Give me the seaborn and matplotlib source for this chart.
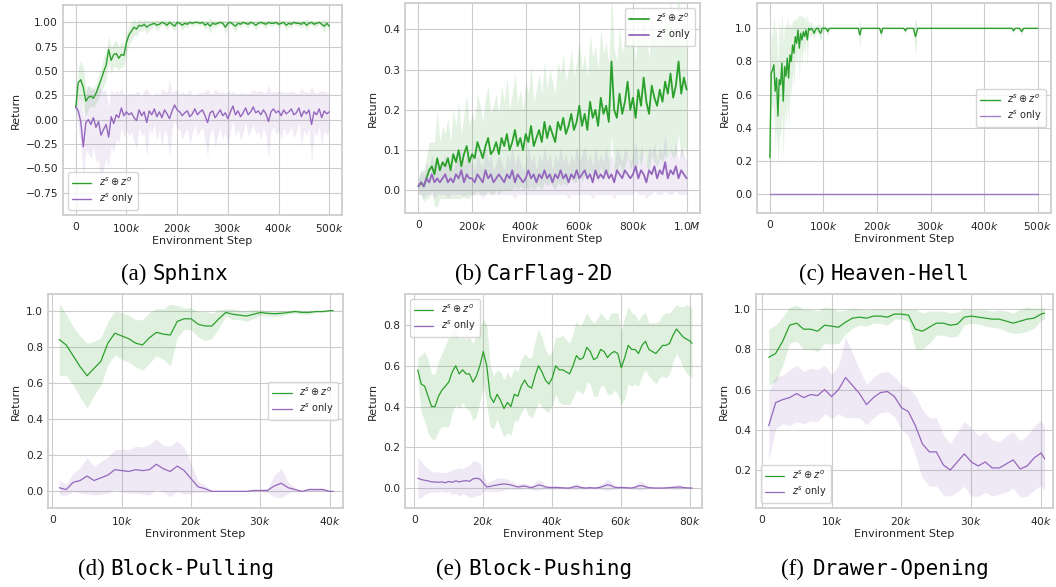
import numpy as np
import matplotlib
matplotlib.use("Agg")
import matplotlib.pyplot as plt
import seaborn as sns

# ---- data ----
# (a) Sphinx, logged every 5k steps
sphinx_steps = np.arange(0, 500001, 5000)
sphinx_full = [0.12, 0.38, 0.41, 0.33, 0.19, 0.23, 0.24, 0.22, 0.27, 0.34,
               0.41, 0.49, 0.56, 0.72, 0.61, 0.67, 0.68, 0.63, 0.67, 0.66,
               0.79, 0.87, 0.91, 0.95, 0.93, 0.97, 0.96, 0.98, 0.95, 0.97,
               0.98, 0.99, 0.97, 0.98, 1.00, 0.99, 0.97, 1.00, 0.98, 0.96,
               1.00, 0.99, 0.97, 0.99, 0.98, 1.00, 0.99, 1.00, 1.00, 0.99,
               1.00, 0.97, 0.99, 0.96, 0.99, 0.98, 0.99, 1.00, 0.99, 0.95,
               0.99, 1.00, 0.98, 0.96, 0.99, 0.98, 1.00, 0.99, 0.98, 1.00,
               0.99, 0.97, 0.99, 1.00, 0.99, 0.98, 1.00, 0.99, 0.99, 1.00,
               0.98, 0.99, 1.00, 0.97, 0.99, 0.98, 1.00, 0.99, 0.99, 0.98,
               1.00, 0.97, 0.99, 1.00, 0.98, 0.99, 1.00, 0.98, 0.96, 0.99,
               0.96]
sphinx_full_sd = [0.08, 0.15, 0.20, 0.22, 0.15, 0.12, 0.10, 0.10, 0.10, 0.12,
                  0.12, 0.15, 0.15, 0.14, 0.13, 0.12, 0.14, 0.12, 0.13, 0.12,
                  0.10, 0.10, 0.10, 0.08, 0.07, 0.06, 0.05, 0.05, 0.07, 0.05,
                  0.04, 0.03, 0.06, 0.04, 0.03, 0.03, 0.05, 0.03, 0.04, 0.06,
                  0.02, 0.03, 0.05, 0.03, 0.04, 0.02, 0.03, 0.02, 0.02, 0.03,
                  0.02, 0.05, 0.03, 0.08, 0.03, 0.04, 0.03, 0.02, 0.03, 0.07,
                  0.03, 0.02, 0.04, 0.06, 0.03, 0.04, 0.02, 0.03, 0.04, 0.02,
                  0.03, 0.05, 0.03, 0.02, 0.03, 0.04, 0.02, 0.03, 0.03, 0.02,
                  0.04, 0.03, 0.02, 0.05, 0.03, 0.04, 0.02, 0.03, 0.03, 0.04,
                  0.02, 0.06, 0.03, 0.02, 0.04, 0.03, 0.02, 0.04, 0.07, 0.03,
                  0.05]
sphinx_only = [0.13, 0.09, -0.02, -0.28, -0.03, 0.00, -0.05, 0.02, -0.08, -0.02,
               -0.16, -0.10, -0.05, -0.18, 0.03, -0.04, 0.05, 0.02, 0.12, 0.04,
               0.08, 0.05, 0.07, 0.02, -0.01, 0.10, 0.04, 0.08, -0.03, 0.09,
               0.05, 0.11, 0.03, 0.08, 0.02, 0.10, 0.06, 0.01, 0.09, 0.15,
               0.10, 0.08, 0.04, 0.07, 0.09, 0.03, 0.06, 0.11, 0.05, 0.08,
               0.10, 0.04, -0.03, 0.07, 0.09, 0.02, 0.06, 0.10, 0.04, 0.07,
               0.01, 0.08, 0.14, 0.05, 0.09, 0.03, 0.07, 0.12, 0.05, 0.08,
               0.13, 0.07, 0.09, 0.05, 0.10, 0.06, -0.02, 0.08, 0.11, 0.07,
               0.09, 0.04, 0.10, 0.06, 0.08, 0.11, 0.05, 0.07, 0.12, 0.03,
               0.09, 0.06, 0.10, -0.05, 0.08, 0.05, 0.11, 0.02, 0.09, 0.06,
               0.08]
sphinx_only_sd = [0.05, 0.15, 0.25, 0.30, 0.30, 0.35, 0.35, 0.30, 0.35, 0.40,
                  0.45, 0.40, 0.35, 0.30, 0.30, 0.30, 0.25, 0.25, 0.20, 0.22,
                  0.18, 0.22, 0.20, 0.25, 0.30, 0.18, 0.20, 0.22, 0.35, 0.18,
                  0.20, 0.15, 0.25, 0.18, 0.30, 0.20, 0.22, 0.40, 0.18, 0.15,
                  0.20, 0.18, 0.25, 0.20, 0.18, 0.28, 0.20, 0.15, 0.22, 0.20,
                  0.18, 0.25, 0.35, 0.20, 0.18, 0.30, 0.22, 0.18, 0.25, 0.20,
                  0.28, 0.20, 0.15, 0.22, 0.18, 0.25, 0.20, 0.15, 0.22, 0.20,
                  0.18, 0.22, 0.20, 0.25, 0.18, 0.22, 0.38, 0.20, 0.18, 0.22,
                  0.20, 0.25, 0.18, 0.22, 0.20, 0.18, 0.24, 0.20, 0.15, 0.30,
                  0.20, 0.22, 0.18, 0.40, 0.20, 0.22, 0.18, 0.28, 0.20, 0.22,
                  0.18]

# (b) CarFlag-2D, logged every 10k steps
carflag_steps = np.arange(0, 1000001, 10000)
carflag_full = [0.01, 0.02, 0.01, 0.03, 0.05, 0.06, 0.04, 0.08, 0.05, 0.07,
                0.06, 0.08, 0.05, 0.09, 0.07, 0.10, 0.06, 0.09, 0.11, 0.07,
                0.09, 0.08, 0.12, 0.10, 0.08, 0.11, 0.13, 0.09, 0.10, 0.12,
                0.09, 0.13, 0.11, 0.14, 0.10, 0.12, 0.15, 0.11, 0.13, 0.10,
                0.14, 0.12, 0.16, 0.11, 0.13, 0.15, 0.12, 0.17, 0.13, 0.16,
                0.14, 0.12, 0.17, 0.15, 0.18, 0.14, 0.16, 0.19, 0.15, 0.17,
                0.21, 0.16, 0.19, 0.15, 0.22, 0.18, 0.20, 0.16, 0.23, 0.19,
                0.21, 0.17, 0.32, 0.20, 0.18, 0.24, 0.19, 0.22, 0.27, 0.20,
                0.23, 0.18, 0.25, 0.21, 0.28, 0.22, 0.19, 0.26, 0.23, 0.21,
                0.25, 0.22, 0.27, 0.24, 0.29, 0.23, 0.26, 0.32, 0.24, 0.28,
                0.25]
carflag_full_sd = [0.02, 0.03, 0.04, 0.05, 0.07, 0.06, 0.08, 0.12, 0.07, 0.09,
                   0.08, 0.10, 0.07, 0.11, 0.09, 0.12, 0.08, 0.10, 0.13, 0.09,
                   0.10, 0.09, 0.12, 0.11, 0.09, 0.12, 0.13, 0.10, 0.11, 0.12,
                   0.10, 0.13, 0.11, 0.14, 0.10, 0.12, 0.14, 0.11, 0.12, 0.10,
                   0.13, 0.12, 0.15, 0.11, 0.12, 0.14, 0.12, 0.15, 0.12, 0.14,
                   0.13, 0.12, 0.15, 0.14, 0.16, 0.13, 0.14, 0.16, 0.13, 0.15,
                   0.16, 0.14, 0.15, 0.13, 0.17, 0.15, 0.16, 0.14, 0.17, 0.15,
                   0.16, 0.14, 0.18, 0.15, 0.14, 0.17, 0.15, 0.16, 0.18, 0.15,
                   0.16, 0.14, 0.17, 0.15, 0.18, 0.16, 0.14, 0.17, 0.16, 0.15,
                   0.17, 0.15, 0.18, 0.16, 0.19, 0.15, 0.17, 0.18, 0.16, 0.17,
                   0.16]
carflag_only = [0.01, 0.02, 0.01, 0.03, 0.02, 0.04, 0.02, 0.03, 0.02, 0.03,
                0.04, 0.02, 0.03, 0.02, 0.04, 0.03, 0.05, 0.02, 0.04, 0.03,
                0.03, 0.02, 0.04, 0.03, 0.02, 0.05, 0.03, 0.04, 0.02, 0.03,
                0.04, 0.03, 0.02, 0.04, 0.03, 0.05, 0.02, 0.04, 0.03, 0.02,
                0.03, 0.05, 0.03, 0.04, 0.02, 0.04, 0.03, 0.05, 0.03, 0.04,
                0.02, 0.04, 0.03, 0.05, 0.03, 0.04, 0.02, 0.04, 0.03, 0.05,
                0.03, 0.04, 0.05, 0.03, 0.04, 0.02, 0.05, 0.03, 0.04, 0.03,
                0.05, 0.03, 0.04, 0.02, 0.05, 0.04, 0.03, 0.05, 0.04, 0.03,
                0.04, 0.06, 0.03, 0.05, 0.04, 0.02, 0.05, 0.04, 0.06, 0.03,
                0.05, 0.04, 0.07, 0.03, 0.05, 0.04, 0.06, 0.03, 0.05, 0.04,
                0.03]
carflag_only_sd = [0.02, 0.03, 0.03, 0.04, 0.03, 0.05, 0.04, 0.04, 0.03, 0.04,
                   0.05, 0.04, 0.04, 0.03, 0.05, 0.04, 0.06, 0.04, 0.05, 0.04,
                   0.04, 0.03, 0.05, 0.04, 0.04, 0.06, 0.04, 0.05, 0.03, 0.04,
                   0.05, 0.04, 0.03, 0.05, 0.04, 0.06, 0.04, 0.05, 0.04, 0.03,
                   0.04, 0.06, 0.04, 0.05, 0.03, 0.05, 0.04, 0.06, 0.04, 0.05,
                   0.03, 0.05, 0.04, 0.06, 0.04, 0.05, 0.04, 0.05, 0.04, 0.06,
                   0.04, 0.05, 0.06, 0.04, 0.05, 0.04, 0.06, 0.04, 0.05, 0.04,
                   0.06, 0.04, 0.05, 0.04, 0.06, 0.05, 0.04, 0.06, 0.05, 0.04,
                   0.05, 0.06, 0.04, 0.06, 0.05, 0.04, 0.06, 0.05, 0.06, 0.04,
                   0.06, 0.05, 0.07, 0.04, 0.06, 0.05, 0.06, 0.04, 0.06, 0.05,
                   0.04]

# (c) Heaven-Hell, denser logging early on, only dips kept later (steps in k)
hell_steps_k = [0, 2.5, 5, 7.5, 10, 12.5, 15, 17.5, 20, 22.5,
                25, 27.5, 30, 32.5, 35, 37.5, 40, 42.5, 45, 47.5,
                50, 52.5, 55, 57.5, 60, 62.5, 65, 67.5, 70, 72.5,
                75, 77.5, 80, 82.5, 85, 87.5, 90, 92.5, 95, 97.5,
                100, 105, 108, 111, 130, 160, 165, 168, 171, 200,
                205, 208, 211, 250, 253, 256, 268, 272, 276, 350,
                452, 455, 458, 466, 470, 474, 500]
hell_full = [0.22, 0.73, 0.75, 0.78, 0.62, 0.70, 0.47, 0.69, 0.66, 0.79,
             0.56, 0.77, 0.71, 0.82, 0.70, 0.84, 0.80, 0.90, 0.85, 0.95,
             0.91, 0.99, 0.88, 0.97, 0.93, 0.98, 0.95, 0.99, 0.93, 1.00,
             0.99, 1.00, 0.99, 0.97, 0.99, 1.00, 1.00, 0.98, 0.97, 1.00,
             1.00, 1.00, 0.98, 1.00, 1.00, 1.00, 1.00, 0.96, 1.00, 1.00,
             1.00, 0.97, 1.00, 1.00, 0.985, 1.00, 1.00, 0.95, 1.00, 1.00,
             1.00, 0.985, 1.00, 1.00, 0.98, 1.00, 1.00]
hell_full_sd = [0.28, 0.25, 0.20, 0.30, 0.35, 0.30, 0.30, 0.35, 0.30, 0.30,
                0.35, 0.25, 0.30, 0.25, 0.30, 0.20, 0.20, 0.15, 0.20, 0.10,
                0.15, 0.08, 0.20, 0.10, 0.15, 0.08, 0.12, 0.05, 0.15, 0.03,
                0.05, 0.04, 0.03, 0.04, 0.03, 0.02, 0.03, 0.04, 0.04, 0.02,
                0.03, 0.00, 0.03, 0.00, 0.00, 0.00, 0.00, 0.09, 0.00, 0.00,
                0.00, 0.04, 0.00, 0.00, 0.02, 0.00, 0.00, 0.11, 0.00, 0.00,
                0.00, 0.02, 0.00, 0.00, 0.03, 0.00, 0.00]
hell_only_steps_k = [0, 500]
hell_only = [0.0, 0.0]

# (d) Block-Pulling, (f) Drawer-Opening: steps in k
block40_steps_k = [1, 2, 3, 4, 5, 6, 7, 8, 9, 10,
                   11, 12, 13, 14, 15, 16, 17, 18, 19, 20,
                   21, 22, 23, 24, 25, 26, 27, 28, 29, 30,
                   31, 32, 33, 34, 35, 36, 37, 38, 39, 40, 40.5]
pull_full = [0.84, 0.81, 0.75, 0.69, 0.64, 0.68, 0.72, 0.82, 0.875, 0.86,
             0.845, 0.82, 0.81, 0.85, 0.88, 0.87, 0.865, 0.94, 0.955, 0.955,
             0.925, 0.915, 0.915, 0.955, 0.99, 0.98, 0.975, 0.97, 0.98, 0.99,
             0.985, 0.983, 0.985, 0.99, 0.995, 0.99, 0.99, 0.995, 0.995, 1.0, 1.0]
pull_full_sd = [0.20, 0.17, 0.16, 0.17, 0.18, 0.15, 0.13, 0.12, 0.12, 0.13,
                0.13, 0.13, 0.14, 0.14, 0.13, 0.14, 0.17, 0.09, 0.06, 0.06,
                0.07, 0.08, 0.07, 0.05, 0.02, 0.03, 0.025, 0.03, 0.025, 0.015,
                0.015, 0.015, 0.015, 0.01, 0.01, 0.01, 0.01, 0.005, 0.005, 0.0, 0.0]
pull_only = [0.02, 0.01, 0.05, 0.06, 0.085, 0.06, 0.075, 0.09, 0.12, 0.115,
             0.11, 0.12, 0.115, 0.12, 0.15, 0.125, 0.11, 0.14, 0.115, 0.07,
             0.025, 0.015, 0.0, 0.0, 0.0, 0.0, 0.0, 0.0, 0.005, 0.005,
             0.005, 0.03, 0.045, 0.02, 0.01, 0.0, 0.01, 0.01, 0.01, 0.0, 0.0]
pull_only_sd = [0.04, 0.03, 0.05, 0.07, 0.10, 0.08, 0.09, 0.10, 0.11, 0.12,
                0.12, 0.13, 0.13, 0.14, 0.14, 0.13, 0.14, 0.14, 0.13, 0.08,
                0.03, 0.02, 0.0, 0.0, 0.0, 0.0, 0.0, 0.0, 0.005, 0.005,
                0.01, 0.06, 0.08, 0.03, 0.01, 0.0, 0.01, 0.01, 0.01, 0.0, 0.0]

drawer_full = [0.76, 0.78, 0.84, 0.92, 0.93, 0.90, 0.90, 0.89, 0.92, 0.915,
               0.91, 0.935, 0.955, 0.96, 0.955, 0.965, 0.965, 0.96, 0.975, 0.975,
               0.97, 0.90, 0.89, 0.91, 0.93, 0.93, 0.92, 0.925, 0.96, 0.965,
               0.96, 0.955, 0.95, 0.95, 0.94, 0.93, 0.94, 0.95, 0.955, 0.975, 0.98]
drawer_full_sd = [0.14, 0.14, 0.12, 0.09, 0.09, 0.10, 0.10, 0.10, 0.09, 0.09,
                  0.08, 0.06, 0.05, 0.04, 0.04, 0.035, 0.035, 0.04, 0.025, 0.025,
                  0.03, 0.10, 0.09, 0.08, 0.06, 0.06, 0.06, 0.06, 0.04, 0.035,
                  0.035, 0.04, 0.04, 0.045, 0.05, 0.05, 0.06, 0.06, 0.05, 0.03, 0.03]
drawer_only = [0.42, 0.535, 0.55, 0.56, 0.58, 0.56, 0.575, 0.57, 0.60, 0.565,
               0.60, 0.66, 0.62, 0.58, 0.525, 0.56, 0.585, 0.59, 0.565, 0.51,
               0.49, 0.42, 0.33, 0.29, 0.29, 0.225, 0.20, 0.24, 0.28, 0.24,
               0.22, 0.24, 0.21, 0.21, 0.23, 0.25, 0.205, 0.22, 0.26, 0.285, 0.255]
drawer_only_sd = [0.17, 0.13, 0.12, 0.14, 0.14, 0.13, 0.13, 0.13, 0.12, 0.11,
                  0.12, 0.20, 0.16, 0.12, 0.10, 0.10, 0.10, 0.10, 0.10, 0.11,
                  0.12, 0.15, 0.17, 0.17, 0.17, 0.15, 0.13, 0.15, 0.16, 0.17,
                  0.15, 0.15, 0.14, 0.13, 0.14, 0.14, 0.14, 0.15, 0.16, 0.16, 0.16]

# (e) Block-Pushing: steps in k
push_steps_k = [1, 2, 3, 4, 5, 6, 7, 8, 9, 10,
                11, 12, 13, 14, 15, 16, 17, 18, 19, 20,
                21, 22, 23, 24, 25, 26, 27, 28, 29, 30,
                31, 32, 33, 34, 35, 36, 37, 38, 39, 40,
                41, 42, 43, 44, 45, 46, 47, 48, 49, 50,
                51, 52, 53, 54, 55, 56, 57, 58, 59, 60,
                61, 62, 63, 64, 65, 66, 67, 68, 69, 70,
                71, 72, 73, 74, 75, 76, 77, 78, 79, 80, 80.5]
push_full = [0.58, 0.51, 0.50, 0.45, 0.40, 0.40, 0.45, 0.48, 0.50, 0.52,
             0.57, 0.60, 0.56, 0.58, 0.56, 0.56, 0.52, 0.55, 0.60, 0.67,
             0.60, 0.45, 0.42, 0.46, 0.43, 0.39, 0.42, 0.40, 0.46, 0.45,
             0.50, 0.53, 0.50, 0.49, 0.55, 0.60, 0.57, 0.53, 0.51, 0.54,
             0.60, 0.58, 0.58, 0.57, 0.56, 0.60, 0.65, 0.63, 0.64, 0.69,
             0.67, 0.63, 0.64, 0.68, 0.67, 0.64, 0.66, 0.67, 0.66, 0.59,
             0.64, 0.70, 0.68, 0.68, 0.66, 0.70, 0.72, 0.68, 0.67, 0.66,
             0.68, 0.70, 0.70, 0.71, 0.75, 0.78, 0.76, 0.74, 0.73, 0.72, 0.71]
push_full_sd = [0.06, 0.14, 0.17, 0.18, 0.16, 0.16, 0.17, 0.18, 0.20, 0.22,
                0.20, 0.19, 0.17, 0.16, 0.17, 0.18, 0.19, 0.20, 0.18, 0.16,
                0.20, 0.15, 0.13, 0.12, 0.14, 0.14, 0.15, 0.14, 0.13, 0.12,
                0.13, 0.13, 0.14, 0.15, 0.17, 0.18, 0.17, 0.15, 0.14, 0.13,
                0.14, 0.16, 0.17, 0.16, 0.15, 0.16, 0.17, 0.16, 0.18, 0.17,
                0.16, 0.18, 0.19, 0.18, 0.17, 0.18, 0.20, 0.19, 0.20, 0.18,
                0.20, 0.19, 0.18, 0.17, 0.16, 0.15, 0.14, 0.13, 0.14, 0.15,
                0.14, 0.15, 0.16, 0.15, 0.13, 0.12, 0.13, 0.15, 0.17, 0.17, 0.17]
push_only = [0.048, 0.042, 0.038, 0.035, 0.030, 0.030, 0.028, 0.030, 0.026, 0.032,
             0.028, 0.035, 0.030, 0.034, 0.036, 0.033, 0.045, 0.048, 0.044, 0.025,
             0.005, 0.008, 0.012, 0.015, 0.018, 0.020, 0.018, 0.015, 0.010, 0.005,
             0.008, 0.010, 0.005, 0.002, 0.008, 0.015, 0.012, 0.005, 0.003, 0.002,
             0.003, 0.002, 0.001, 0.000, 0.000, 0.005, 0.008, 0.004, 0.001, 0.000,
             0.002, 0.000, 0.001, 0.004, 0.010, 0.016, 0.012, 0.004, 0.002, 0.003,
             0.002, 0.001, 0.000, 0.004, 0.010, 0.012, 0.006, 0.002, 0.001, 0.000,
             0.000, 0.000, 0.001, 0.002, 0.003, 0.004, 0.005, 0.002, 0.001, 0.000, 0.000]
push_only_sd = [0.10, 0.09, 0.07, 0.06, 0.05, 0.05, 0.05, 0.045, 0.05, 0.05,
                0.06, 0.06, 0.07, 0.06, 0.07, 0.08, 0.09, 0.085, 0.08, 0.04,
                0.02, 0.025, 0.03, 0.035, 0.03, 0.03, 0.025, 0.02, 0.015, 0.012,
                0.015, 0.013, 0.01, 0.01, 0.02, 0.025, 0.02, 0.01, 0.008, 0.008,
                0.008, 0.006, 0.005, 0.004, 0.006, 0.012, 0.015, 0.01, 0.006, 0.005,
                0.006, 0.005, 0.006, 0.01, 0.02, 0.028, 0.02, 0.01, 0.006, 0.006,
                0.005, 0.004, 0.005, 0.01, 0.02, 0.022, 0.012, 0.006, 0.004, 0.003,
                0.003, 0.003, 0.004, 0.006, 0.01, 0.012, 0.012, 0.006, 0.004, 0.003, 0.003]

GREEN = "#2ca02c"
PURPLE = "#9467bd"
LABEL_FULL = r"$z^s \oplus z^o$"
LABEL_ONLY = r"$z^s$ only"

sns.set_theme(style="whitegrid")
plt.rcParams.update({
    "font.family": ["DejaVu Sans"],
    "axes.labelsize": 8,
    "xtick.labelsize": 7.7,
    "ytick.labelsize": 7.7,
    "legend.fontsize": 7,
    "axes.edgecolor": "0.8",
    "grid.color": "0.8",
    "grid.linewidth": 0.8,
    "xtick.major.size": 0,
    "ytick.major.size": 0,
    "xtick.major.pad": 5,
    "ytick.major.pad": 3.5,
})

W, H = 1056, 587
fig = plt.figure(figsize=(W / 100, H / 100), dpi=100)


def make_ax(left, right, top, bottom):
    return fig.add_axes([left / W, 1 - bottom / H, (right - left) / W, (bottom - top) / H])


def draw(ax, x, mean, sd, color, label, lw=1.0, band=0.15):
    mean = np.asarray(mean)
    sd = np.asarray(sd)
    ax.fill_between(x, mean - sd, mean + sd, color=color, alpha=band, lw=0)
    sns.lineplot(x=x, y=mean, color=color, linewidth=lw, label=label, ax=ax)


def finish(ax, xticks, xlabels, yticks, xlim, ylim, loc):
    ax.set_xlim(*xlim)
    ax.set_ylim(*ylim)
    ax.set_xticks(xticks)
    ax.set_xticklabels(xlabels)
    ax.set_yticks(yticks)
    ax.set_xlabel("Environment Step", labelpad=1.5)
    ax.set_ylabel("Return", labelpad=3.5)
    ax.legend(loc=loc, handlelength=2.0, borderpad=0.4, labelspacing=0.4)


k500 = [0, 100000, 200000, 300000, 400000, 500000]
k500_lab = ["0", "100$k$", "200$k$", "300$k$", "400$k$", "500$k$"]

# (a) Sphinx
ax1 = make_ax(63, 342, 5, 215)
draw(ax1, sphinx_steps, sphinx_full, sphinx_full_sd, GREEN, LABEL_FULL, band=0.13)
draw(ax1, sphinx_steps, sphinx_only, sphinx_only_sd, PURPLE, LABEL_ONLY, band=0.13)
finish(ax1, k500, k500_lab, [-0.75, -0.5, -0.25, 0.0, 0.25, 0.5, 0.75, 1.0],
       (-25000, 525000), (-0.98, 1.178), "lower left")

# (b) CarFlag-2D
ax2 = make_ax(405, 700, 3, 213)
draw(ax2, carflag_steps, carflag_full, carflag_full_sd, GREEN, LABEL_FULL, lw=1.3, band=0.13)
draw(ax2, carflag_steps, carflag_only, carflag_only_sd, PURPLE, LABEL_ONLY, lw=1.3, band=0.13)
finish(ax2, [0, 200000, 400000, 600000, 800000, 1000000],
       ["0", "200$k$", "400$k$", "600$k$", "800$k$", "1.0$M$"],
       [0.0, 0.1, 0.2, 0.3, 0.4], (-50000, 1050000), (-0.056, 0.465), "upper right")

# (c) Heaven-Hell
ax3 = make_ax(757, 1051, 3, 213)
hell_x = np.asarray(hell_steps_k) * 1000
draw(ax3, hell_x, hell_full, hell_full_sd, GREEN, LABEL_FULL, band=0.13)
sns.lineplot(x=np.asarray(hell_only_steps_k) * 1000, y=hell_only, color=PURPLE,
             linewidth=1.0, alpha=0.85, label=LABEL_ONLY, ax=ax3)
finish(ax3, k500, k500_lab, [0.0, 0.2, 0.4, 0.6, 0.8, 1.0],
       (-24000, 525000), (-0.115, 1.153), "center right")

k40 = [0, 10000, 20000, 30000, 40000]
k40_lab = ["0", "10$k$", "20$k$", "30$k$", "40$k$"]
b40_x = np.asarray(block40_steps_k) * 1000

# (d) Block-Pulling
ax4 = make_ax(48, 343, 294, 508)
draw(ax4, b40_x, pull_full, pull_full_sd, GREEN, LABEL_FULL, lw=0.9)
draw(ax4, b40_x, pull_only, pull_only_sd, PURPLE, LABEL_ONLY, lw=0.9)
finish(ax4, k40, k40_lab, [0.0, 0.2, 0.4, 0.6, 0.8, 1.0],
       (-630, 41900), (-0.092, 1.092), "center right")

# (e) Block-Pushing
ax5 = make_ax(405, 702, 294, 508)
push_x = np.asarray(push_steps_k) * 1000
draw(ax5, push_x, push_full, push_full_sd, GREEN, LABEL_FULL, lw=0.9)
draw(ax5, push_x, push_only, push_only_sd, PURPLE, LABEL_ONLY, lw=0.9)
finish(ax5, [0, 20000, 40000, 60000, 80000], ["0", "20$k$", "40$k$", "60$k$", "80$k$"],
       [0.0, 0.2, 0.4, 0.6, 0.8], (-2700, 83400), (-0.098, 0.952), "upper left")

# (f) Drawer-Opening
ax6 = make_ax(756, 1053, 294, 508)
draw(ax6, b40_x, drawer_full, drawer_full_sd, GREEN, LABEL_FULL, lw=0.9)
draw(ax6, b40_x, drawer_only, drawer_only_sd, PURPLE, LABEL_ONLY, lw=0.9)
finish(ax6, k40, k40_lab, [0.2, 0.4, 0.6, 0.8, 1.0],
       (-820, 41700), (0.011, 1.075), "lower left")

# captions: serif tag + typewriter task name
captions = [("(a)", "Sphinx", 121, 280),
            ("(b)", "CarFlag-2D", 455, 280),
            ("(c)", "Heaven-Hell", 799, 280),
            ("(d)", "Block-Pulling", 78, 575),
            ("(e)", "Block-Pushing", 436, 575),
            ("(f)", "Drawer-Opening", 781, 575)]
for tag, name, xt, yb in captions:
    fig.text(xt / W, 1 - yb / H, tag, family="Liberation Serif", fontsize=16.5,
             va="baseline", ha="left", color="black")
    fig.text((xt + 32) / W, 1 - yb / H, name, family="DejaVu Sans Mono", fontsize=15,
             va="baseline", ha="left", color="black")

fig.savefig("out.png", dpi=100)
